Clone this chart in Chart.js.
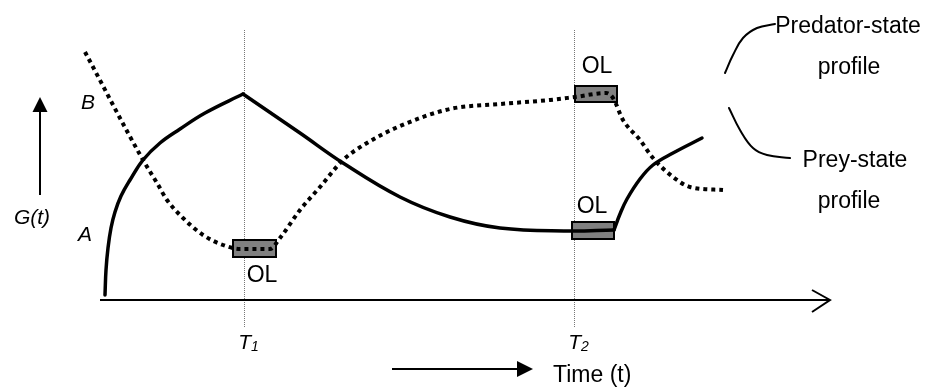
<!DOCTYPE html>
<html>
<head>
<meta charset="utf-8">
<script src="https://cdn.jsdelivr.net/npm/chart.js@4"></script>
<style>
  html, body { margin: 0; padding: 0; background: #fff; }
  canvas { display: block; }
</style>
</head>
<body>
<canvas id="chart" width="927" height="390"></canvas>
<script>
// schematic values: x = time units, y = G(t) units
const solidRise  = [[105,95],[106,120],[108,142],[111,162],[115,178],[121,194],[130,210],[143,230],[160,247],[180,261],[205,277],[243,296]];
const solidDecay = [[243,296],[300,257],[343,227],[400,193],[450,173],[500,162],[567,159],[614,160]];
const solidEnd   = [[614,160],[620,176],[627,191],[640,211],[653,225],[673,237],[702,252]];

const dotted = [[85,338],[143,230],[157,207],[167,190],[183,172],[203,155],[223,145],[240,141],
  [270,141],[280,152],[300,180],[320,203],[343,230],[367,247],[400,264],[450,281],[500,286],
  [550,290],[575,293],[606,297],[613,292],[623,270],[640,250],[653,232],[673,213],[690,203],[723,200]];

const predatorKey = [[725,317],[733,335],[743,352],[757,362],[775,366]];
const preyKey     = [[729,282],[740,260],[753,242],[767,235],[790,232]];

// time marks T1, T2
const timeMarks = [244, 574];
const timeSubs = ["1", "2"];

// OL boxes: x1, x2, y1, y2
const olBoxes = [[233,276,133,150],[575,617,288,304],[572,614,151,168]];
const olLabels = [[262,114],[597,323],[592,183]];

const letterLabels = [["B",88,287],["A",85,155],["G(t)",32,172]];
const keyTexts = [["Predator-state",848,363],["profile",849,322],["Prey-state",855,229],["profile",849,188]];

function pts(arr) {
  return arr.map(function(p){ return {x: p[0], y: p[1]}; });
}

function solid(arr, w) {
  return {
    data: pts(arr),
    borderColor: "#000",
    borderWidth: w,
    pointRadius: 0,
    tension: 0.4,
    borderCapStyle: "round",
    borderJoinStyle: "round"
  };
}

const dottedSet = {
  data: pts(dotted),
  borderColor: "#000",
  borderWidth: 4,
  borderDash: [4, 4],
  borderCapStyle: "butt",
  pointRadius: 0,
  cubicInterpolationMode: "monotone"
};

// lines, boxes, arrows, texts
const decor = {
  id: "decor",
  beforeDatasetsDraw: function(chart) {
    const ctx = chart.ctx;
    const xs = chart.scales.x, ys = chart.scales.y;
    ctx.save();

    // vertical guide lines
    ctx.strokeStyle = "#777";
    ctx.lineWidth = 1;
    ctx.setLineDash([1, 1]);
    timeMarks.forEach(function(t){
      const px = Math.round(xs.getPixelForValue(t)) + 0.5;
      ctx.beginPath();
      ctx.moveTo(px, ys.getPixelForValue(360));
      ctx.lineTo(px, ys.getPixelForValue(62));
      ctx.stroke();
    });
    ctx.setLineDash([]);

    // OL boxes
    olBoxes.forEach(function(b){
      const x1 = xs.getPixelForValue(b[0]), x2 = xs.getPixelForValue(b[1]);
      const y1 = ys.getPixelForValue(b[3]), y2 = ys.getPixelForValue(b[2]);
      ctx.fillStyle = "#808080";
      ctx.fillRect(x1, y1, x2 - x1, y2 - y1);
      ctx.strokeStyle = "#000";
      ctx.lineWidth = 2;
      ctx.strokeRect(x1, y1, x2 - x1, y2 - y1);
    });
    ctx.restore();
  },
  afterDatasetsDraw: function(chart) {
    const ctx = chart.ctx;
    const xs = chart.scales.x, ys = chart.scales.y;
    const X = function(v){ return xs.getPixelForValue(v); };
    const Y = function(v){ return ys.getPixelForValue(v); };
    ctx.save();
    ctx.strokeStyle = "#000";
    ctx.fillStyle = "#000";
    ctx.lineWidth = 2;

    // time axis with open arrow head
    ctx.beginPath();
    ctx.moveTo(X(100), Y(90));
    ctx.lineTo(X(829), Y(90));
    ctx.moveTo(X(812), Y(100));
    ctx.lineTo(X(830), Y(90));
    ctx.lineTo(X(812), Y(78));
    ctx.stroke();

    // G(t) arrow
    ctx.beginPath();
    ctx.moveTo(X(40), Y(195));
    ctx.lineTo(X(40), Y(280));
    ctx.stroke();
    ctx.beginPath();
    ctx.moveTo(X(40), Y(293));
    ctx.lineTo(X(32.5), Y(278));
    ctx.lineTo(X(47.5), Y(278));
    ctx.closePath();
    ctx.fill();

    // Time arrow
    ctx.beginPath();
    ctx.moveTo(X(392), Y(21));
    ctx.lineTo(X(518), Y(21));
    ctx.stroke();
    ctx.beginPath();
    ctx.moveTo(X(533), Y(21));
    ctx.lineTo(X(517), Y(29));
    ctx.lineTo(X(517), Y(13));
    ctx.closePath();
    ctx.fill();

    ctx.textBaseline = "middle";
    ctx.textAlign = "center";

    // italic letters
    ctx.font = 'italic 21px "Liberation Sans", Arial, sans-serif';
    letterLabels.forEach(function(l){
      ctx.fillText(l[0], X(l[1]), Y(l[2]));
    });

    // T1 / T2
    timeMarks.forEach(function(t, i){
      ctx.font = 'italic 21px "Liberation Sans", Arial, sans-serif';
      ctx.textAlign = "right";
      ctx.fillText("T", X(t) + 7, Y(47));
      ctx.font = 'italic 14px "Liberation Sans", Arial, sans-serif';
      ctx.textAlign = "left";
      ctx.fillText(timeSubs[i], X(t) + 7, Y(43));
    });

    ctx.textAlign = "center";
    ctx.font = '23px "Liberation Sans", Arial, sans-serif';
    olLabels.forEach(function(l){
      ctx.fillText("OL", X(l[0]), Y(l[1]));
    });
    keyTexts.forEach(function(k){
      ctx.fillText(k[0], X(k[1]), Y(k[2]));
    });
    ctx.textAlign = "left";
    ctx.fillText("Time (t)", X(553), Y(14));

    ctx.restore();
  }
};

new Chart(document.getElementById("chart"), {
  type: "line",
  data: {
    datasets: [
      solid(solidRise, 3.5),
      solid(solidDecay, 3.5),
      solid(solidEnd, 3.5),
      dottedSet,
      solid(predatorKey, 2),
      solid(preyKey, 2)
    ]
  },
  options: {
    responsive: false,
    animation: false,
    layout: { padding: 0 },
    scales: {
      x: { type: "linear", min: 0, max: 927, display: false },
      y: { type: "linear", min: 0, max: 390, display: false }
    },
    plugins: {
      legend: { display: false },
      tooltip: { enabled: false }
    }
  },
  plugins: [decor]
});
</script>
</body>
</html>
